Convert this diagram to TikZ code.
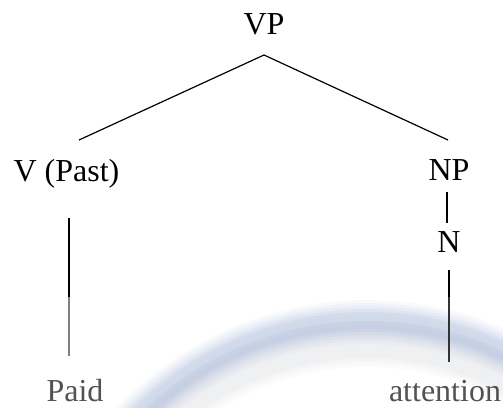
\documentclass[tikz,border=0pt]{standalone}
\usepackage{fontspec}
\setmainfont{Liberation Serif}
\usetikzlibrary{calc}
\definecolor{arcblue}{RGB}{170,185,218}
\definecolor{arcshade}{RGB}{190,192,200}
\begin{document}
\begin{tikzpicture}[x=1pt,y=-1pt,
  lbl/.style={anchor=base, inner sep=0pt, font=\fontsize{32}{38}\selectfont},
  leaf/.style={lbl, text=black!68},
  edge/.style={line width=1.2pt, black},
  fadedge/.style={line width=1.3pt, black!50}]
\useasboundingbox (0,0) rectangle (503,407);
% background arc
\begin{scope}
\clip (0,0) rectangle (503,407);
\foreach \w/\o in {48/0.06,42/0.06,36/0.07,30/0.08}{
  \draw[line width=\w pt, arcshade, opacity=\o] (367,645) circle (302pt);}
\foreach \w/\o in {44/0.08,38/0.1,32/0.12,26/0.15,20/0.2,14/0.2}{
  \draw[line width=\w pt, arcblue, opacity=\o] (367,645) circle (323pt);}
\draw[line width=6pt, white, opacity=0.12] (367,645) circle (327pt);
\end{scope}
% labels
\node[lbl] (vp) at (264,34) {VP};
\node[lbl] (vpast) at (66.5,181) {V (Past)};
\node[lbl] (np) at (449,180) {NP};
\node[lbl] (n) at (449,252) {N};
\node[leaf] (paid) at (75,401) {Paid};
\node[leaf] (att) at (445,401) {attention};
% edges
\draw[edge] ($(vp.base)+(0,21)$) -- ($(vpast.base)+(12.5,-41)$);
\draw[edge] ($(vp.base)+(0,21)$) -- ($(np.base)+(-1,-40)$);
\draw[edge] ($(np.base)+(-2,12)$) -- ($(n.base)+(-2,-29)$);
\draw[edge] ($(vpast.base)+(2.5,37)$) -- ($(paid.base)+(-6,-45)$);
\draw[edge] ($(n.base)+(0,18)$) -- ($(att.base)+(4,-39)$);
\begin{scope}
\clip (0,297) rectangle (503,407);
\draw[fadedge] ($(vpast.base)+(2.5,37)$) -- ($(paid.base)+(-6,-45)$);
\draw[fadedge, black!80] ($(n.base)+(0,18)$) -- ($(att.base)+(4,-39)$);
\end{scope}
\end{tikzpicture}
\end{document}
